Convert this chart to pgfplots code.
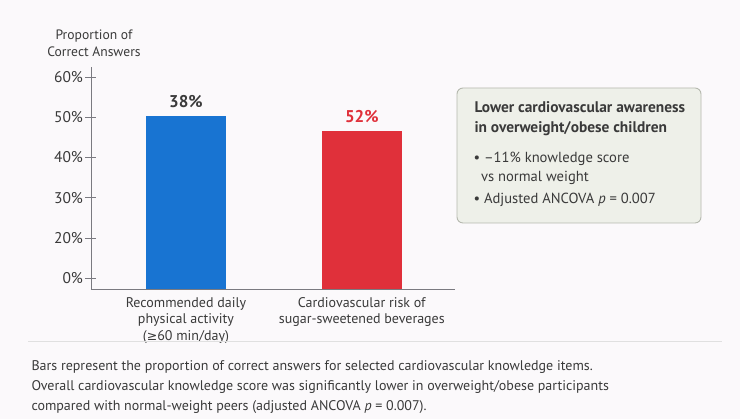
\documentclass[border=0pt]{standalone}
\usepackage{pgfplots}
\pgfplotsset{compat=1.18}
\usepackage{fontspec}
\setmainfont{PT Sans}
\newfontfamily\sym{DejaVu Sans}
\definecolor{bgc}{HTML}{FBF9FB}
\definecolor{barblue}{HTML}{1874D2}
\definecolor{barred}{HTML}{E0303A}
\definecolor{txt}{HTML}{3A3A3A}
\definecolor{axc}{HTML}{7A7A80}
\definecolor{boxfill}{HTML}{EEF0E9}
\definecolor{boxdraw}{HTML}{B5B8AE}
\begin{document}
\begin{tikzpicture}
\fill[bgc] (0pt,0pt) rectangle (740pt,419pt);
% y-axis title
\node[align=center, text=txt, font=\fontsize{13.6}{17}\selectfont] at (94pt,376pt) {Proportion of\\Correct Answers};
\begin{axis}[
  at={(91pt,130pt)}, anchor=south west,
  scale only axis, width=364pt, height=222pt,
  xmin=0.46, xmax=2.53, ymin=7.3, ymax=62.5,
  axis lines=left, axis line style={-, draw=axc, line width=0.8pt},
  ytick={10,20,30,40,50,60},
  yticklabels={0\%,20\%,30\%,40\%,50\%,60\%},
  yticklabel style={text=txt, font=\fontsize{15.5}{18}\selectfont, xshift=1pt},
  /pgf/number format/assume math mode=true,
  ytick style={draw=axc, line width=0.8pt},
  tick align=center, major tick length=11pt,
  xtick={1,2},
  xtick style={draw=none},
  xticklabels={{Recommended daily\\physical activity\\({\sym\fontsize{12.5}{16}\selectfont ≥}60 min/day)},{Cardiovascular risk of\\sugar-sweetened beverages}},
  xticklabel style={align=center, text=txt, font=\fontsize{14}{16.5}\selectfont, yshift=6pt},
  ybar, bar width=80pt, bar shift=0pt,
  clip=false,
]
\addplot[fill=barblue, draw=none] coordinates {(1,50.2)};
\addplot[fill=barred, draw=none] coordinates {(2,46.6)};
\node[anchor=south, text=txt, font=\bfseries\fontsize{17}{20}\selectfont] at (axis cs:1,50.2) [yshift=5pt] {38\%};
\node[anchor=south, text=barred, font=\bfseries\fontsize{17}{20}\selectfont] at (axis cs:2,46.6) [yshift=5pt] {52\%};
\end{axis}
% annotation box
\draw[fill=boxfill, draw=boxdraw, line width=0.9pt, rounded corners=6pt] (457pt,196pt) rectangle (701pt,331pt);
\node[anchor=north west, align=left, text=txt, font=\bfseries\fontsize{15.4}{20.5}\selectfont] at (471pt,321pt) {Lower cardiovascular awareness\\in overweight/obese children};
\node[anchor=north west, align=left, text=txt, font=\fontsize{14.6}{18.5}\selectfont] at (470pt,270pt) {• –11\% knowledge score\\\hspace*{7.5pt}vs normal weight};
\node[anchor=north west, align=left, text=txt, font=\fontsize{14.6}{18.5}\selectfont] at (470pt,229pt) {• Adjusted ANCOVA \textit{p} = 0.007};
% separator
\draw[draw=black!12, line width=0.8pt] (28pt,78pt) -- (722pt,78pt);
% footnote
\node[anchor=north west, align=left, text=txt, font=\fontsize{14}{20}\selectfont] at (28pt,62pt) {Bars represent the proportion of correct answers for selected cardiovascular knowledge items.\\Overall cardiovascular knowledge score was significantly lower in overweight/obese participants\\compared with normal-weight peers (adjusted ANCOVA \textit{p} = 0.007).};
\end{tikzpicture}
\end{document}
